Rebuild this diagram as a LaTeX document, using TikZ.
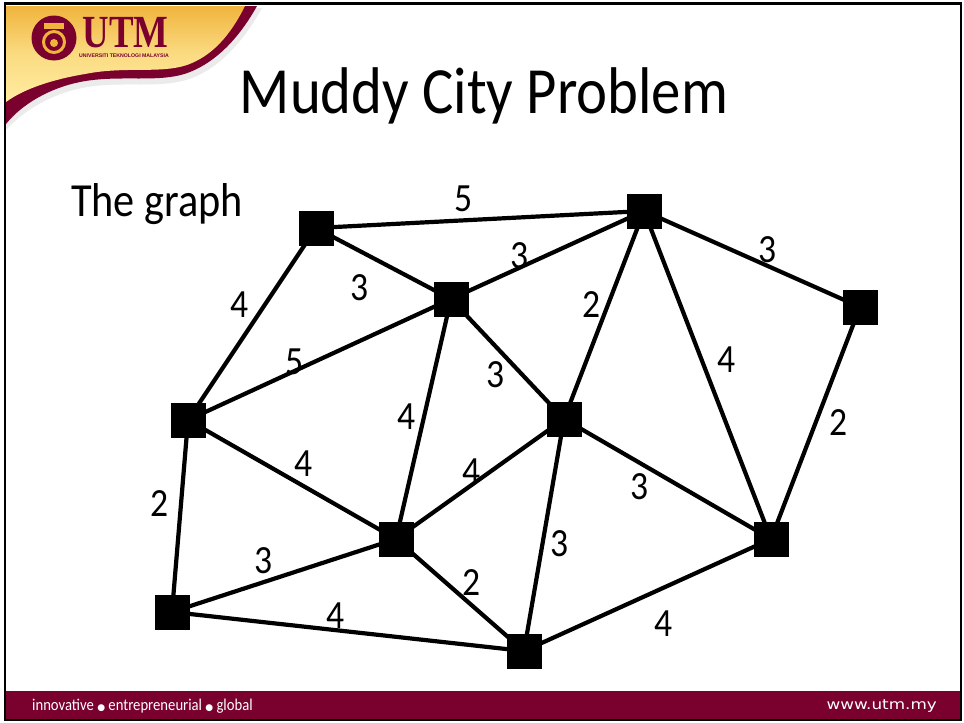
\documentclass[tikz,border=0pt]{standalone}
\usepackage{fontspec}
\setmainfont{Carlito}[FakeStretch=0.89]
\newfontfamily\serifbold{Liberation Serif}[FakeStretch=0.8]
\newfontfamily\sanslogo{Liberation Sans}
\newfontfamily\urlfont{DejaVu Sans}[FakeStretch=1.2]
\newfontfamily\dotfont{DejaVu Sans}
\usetikzlibrary{shadings}
\definecolor{utmmaroon}{RGB}{122,0,46}
\definecolor{goldlight}{RGB}{255,236,160}
\definecolor{golddark}{RGB}{240,180,60}
\tikzset{
  vertex/.style={fill=black,draw=none,minimum size=35pt,inner sep=0pt,outer sep=0pt,rectangle},
  edge/.style={line width=4.2pt,black},
  wlabel/.style={font=\fontsize{40}{40}\selectfont,inner sep=0pt,text=black},
  footer/.style={font=\fontsize{16.5}{16.5}\selectfont,text=white,inner sep=0pt}
}
\begin{document}
\begin{tikzpicture}[x=1pt,y=-1pt]
\useasboundingbox (0,0) rectangle (964,723);
\fill[white] (0,0) rectangle (964,723);
% header ribbon
\fill[black!8] (6,8) -- (262,8) .. controls (242,44) and (218,68) .. (192,78)
  .. controls (160,90) and (120,80) .. (82,88) .. controls (52,94) and (24,110) .. (6,130) -- cycle;
\fill[utmmaroon] (6,6) -- (257,6) .. controls (238,40) and (215,62) .. (190,72)
  .. controls (160,84) and (120,74) .. (80,82) .. controls (50,88) and (22,104) .. (6,124) -- cycle;
\shade[top color=golddark,bottom color=goldlight,middle color=goldlight!70!golddark]
  (6,6) -- (245,6) .. controls (230,36) and (212,56) .. (187,65)
  .. controls (160,74) and (125,66) .. (85,74) .. controls (55,79) and (25,88) .. (6,102) -- cycle;
% seal
\node[circle,fill=utmmaroon,minimum size=45pt,inner sep=0pt] (seal) at (54,38) {};
\node[circle,draw=golddark,line width=3pt,fill=utmmaroon,minimum size=21pt,inner sep=0pt] (sealin) at (54,42) {};
\node[circle,fill=golddark,minimum size=8pt,inner sep=0pt] (sealdot) at (54,43) {};
\node[fill=golddark,minimum width=20pt,minimum height=6pt,inner sep=0pt] (sealbar) at (54,26) {};
% logo text
\node[inner sep=0pt,text=utmmaroon,font=\serifbold\bfseries\fontsize{46}{46}\selectfont] (utm) at (125.5,33) {UTM};
\node[inner sep=0pt,text=utmmaroon,font=\sanslogo\bfseries\fontsize{5.2}{5.2}\selectfont] (utmsub) at (124,56) {UNIVERSITI TEKNOLOGI MALAYSIA};
% title
\node[inner sep=0pt,font=\fontsize{66}{66}\selectfont] (title) at (484,96) {Muddy City Problem};
\node[inner sep=0pt,font=\fontsize{47.5}{47.5}\selectfont] (sub) at (157,204) {The graph};
% graph
\node[vertex] (A) at (316,228) {};
\node[vertex] (B) at (644,211) {};
\node[vertex] (C) at (451,299) {};
\node[vertex] (D) at (860,307) {};
\node[vertex] (E) at (188,420) {};
\node[vertex] (F) at (564,419) {};
\node[vertex] (G) at (396,539) {};
\node[vertex] (H) at (771,539) {};
\node[vertex] (I) at (172,612) {};
\node[vertex] (J) at (524,651) {};
\draw[edge] (A.center)--(B.center) (A.center)--(C.center) (A.center)--(E.center) (B.center)--(C.center) (C.center)--(E.center) (C.center)--(F.center) (C.center)--(G.center) (B.center)--(F.center)
  (B.center)--(H.center) (B.center)--(D.center) (D.center)--(H.center) (E.center)--(G.center) (E.center)--(I.center) (F.center)--(G.center) (F.center)--(J.center) (F.center)--(H.center) (G.center)--(I.center)
  (G.center)--(J.center) (I.center)--(J.center) (J.center)--(H.center);
% weights
\node[wlabel] (l1) at (464,199) {5};
\node[wlabel] (l2) at (360,288) {3};
\node[wlabel] (l3) at (240,305) {4};
\node[wlabel] (l4) at (520,256) {3};
\node[wlabel] (l5) at (295,362) {5};
\node[wlabel] (l6) at (496,375) {3};
\node[wlabel] (l7) at (407,417) {4};
\node[wlabel] (l8) at (592,305) {2};
\node[wlabel] (l9) at (727,360) {4};
\node[wlabel] (l10) at (768,250) {3};
\node[wlabel] (l11) at (839,423) {2};
\node[wlabel] (l12) at (304,464) {4};
\node[wlabel] (l13) at (160,504) {2};
\node[wlabel] (l14) at (472,472) {4};
\node[wlabel] (l15) at (560,544) {3};
\node[wlabel] (l16) at (640,487) {3};
\node[wlabel] (l17) at (264,561) {3};
\node[wlabel] (l18) at (472,583) {2};
\node[wlabel] (l19) at (336,616) {4};
\node[wlabel] (l20) at (664,624) {4};
% footer
\fill[utmmaroon] (6,691) rectangle (960,719);
\node[footer,anchor=west] (f1) at (32,706.5) {innovative {\fontsize{9}{9}\selectfont\dotfont ●} entrepreneurial {\fontsize{9}{9}\selectfont\dotfont ●} global};
\node[footer,anchor=east,font=\urlfont\fontsize{14}{14}\selectfont] (f2) at (937,706.5) {www.utm.my};
% frame
\draw[black,line width=2.5pt] (5,3.5) rectangle (961,720);
\end{tikzpicture}
\end{document}
